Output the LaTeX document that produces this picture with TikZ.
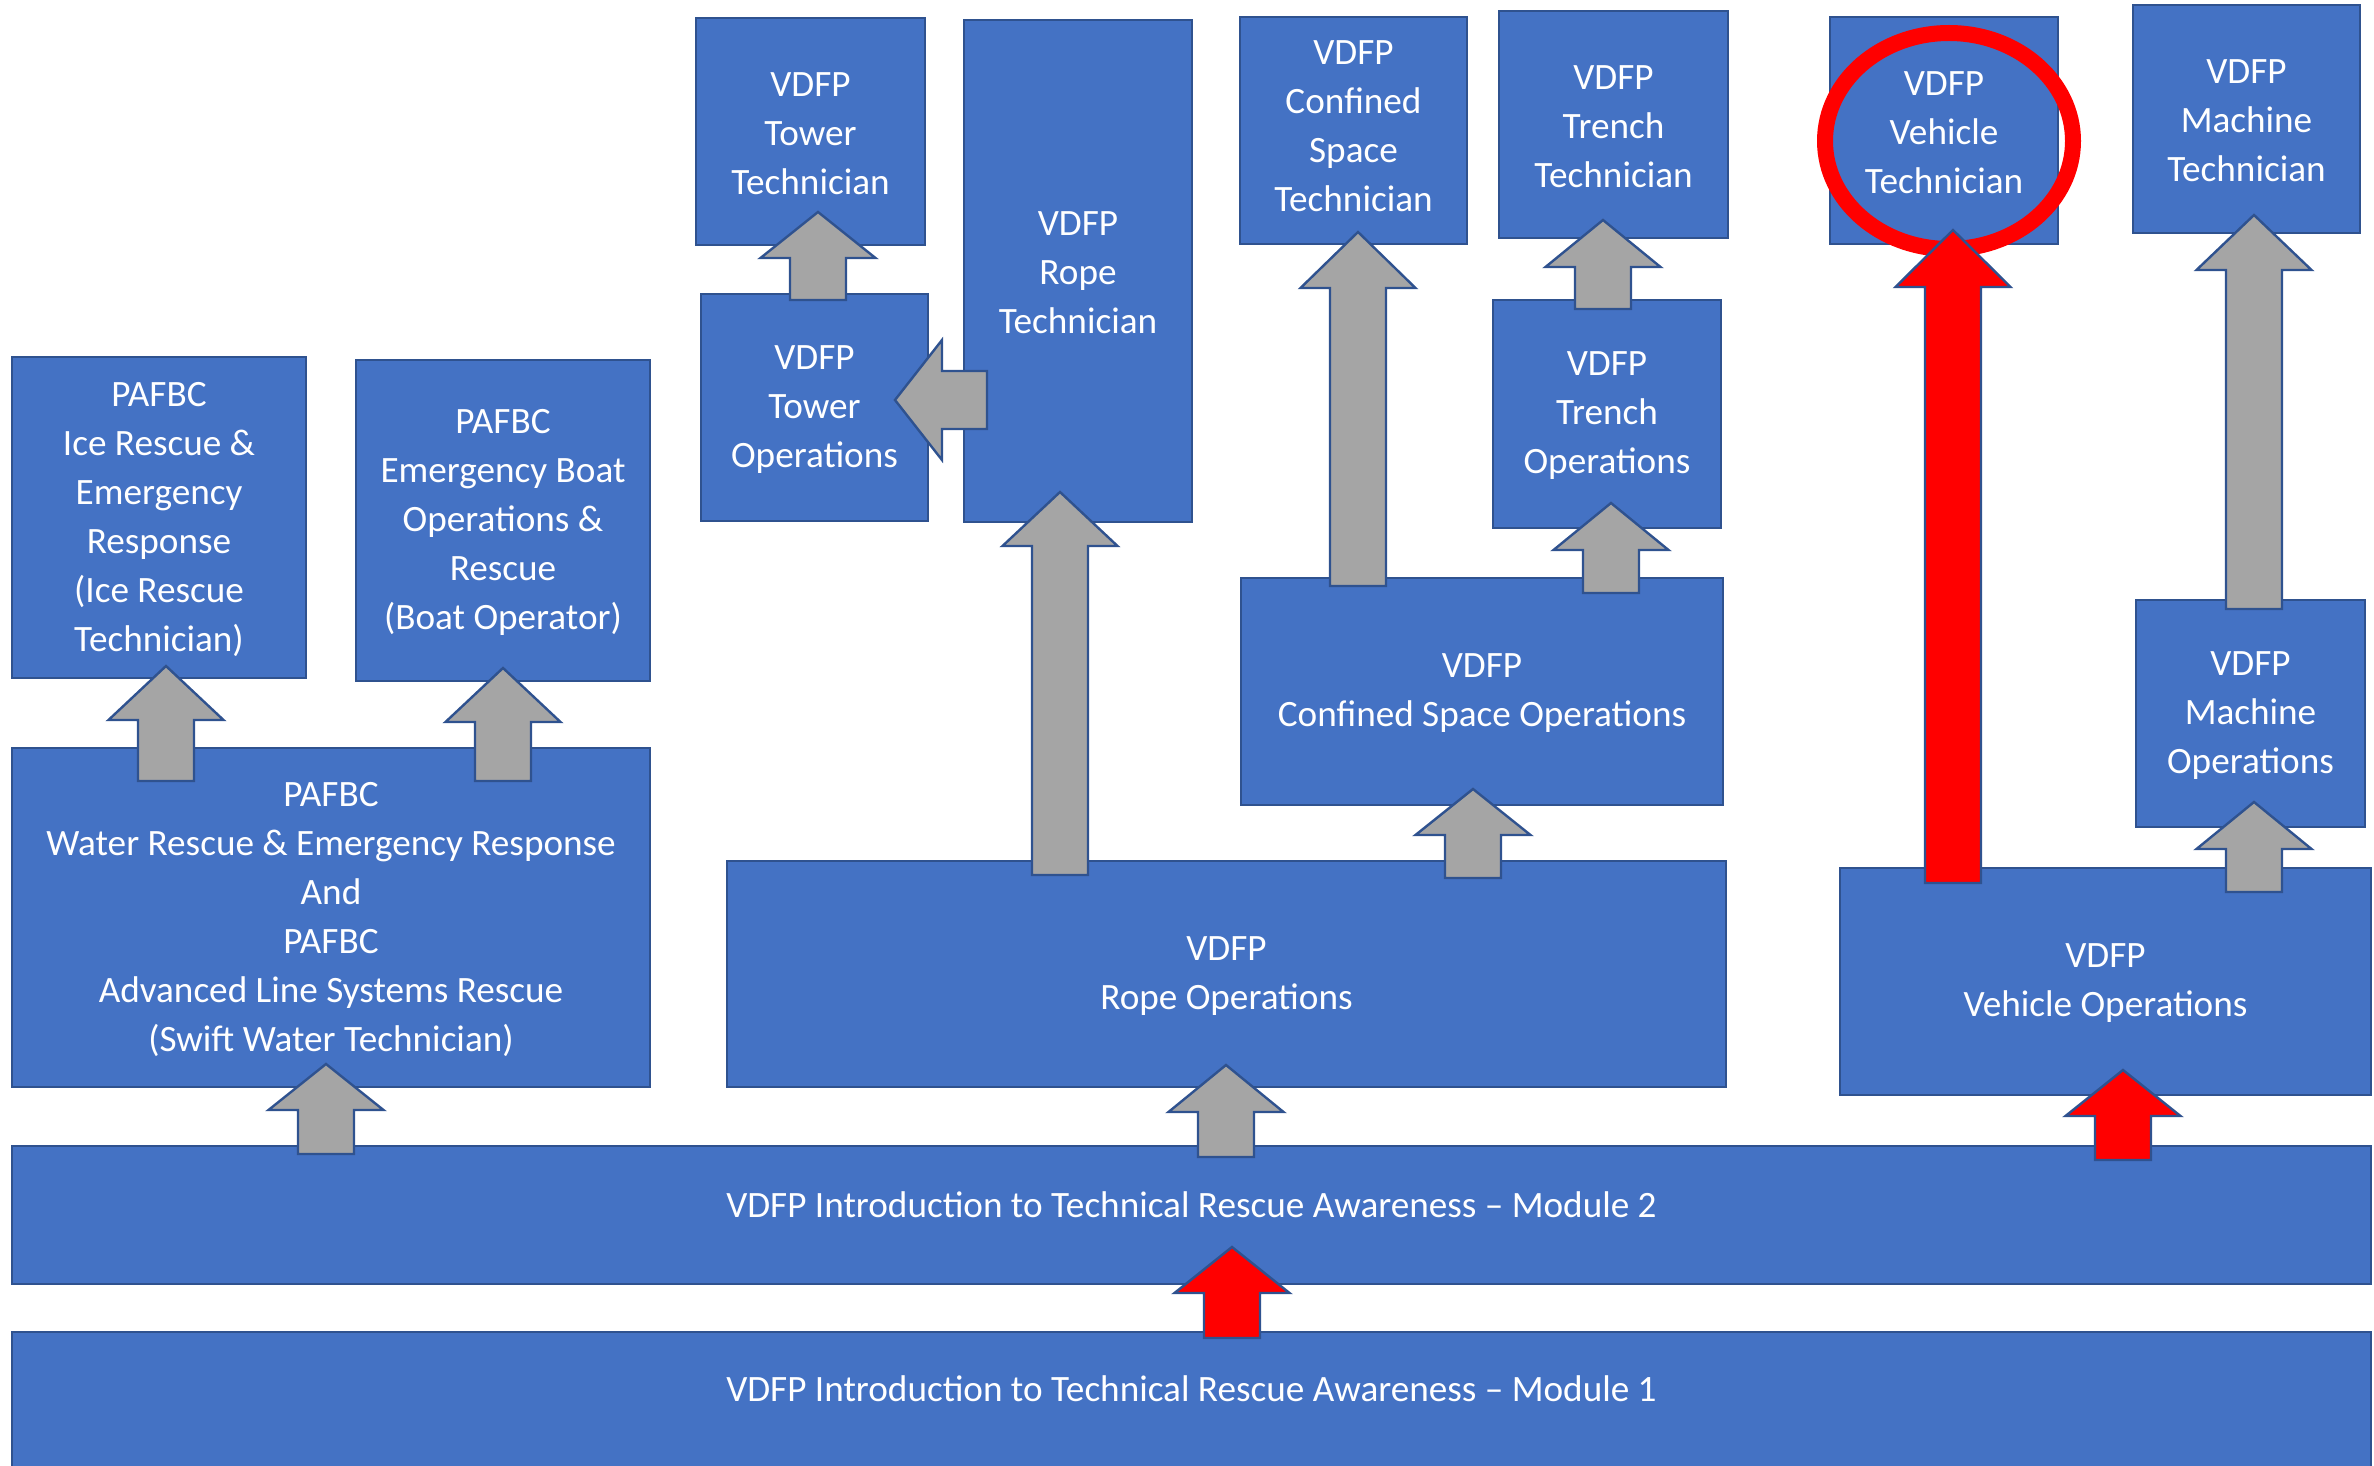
\documentclass[tikz,border=0pt]{standalone}
\usepackage{fontspec}
\setmainfont{Carlito}
\usetikzlibrary{fit}
\definecolor{boxfill}{HTML}{4472C4}
\definecolor{boxline}{HTML}{2F528F}
\definecolor{arrgray}{HTML}{A5A5A5}
\definecolor{arrred}{HTML}{FF0000}
\tikzset{
  box/.style={draw=boxline, fill=boxfill, line width=1.2pt, inner sep=0pt},
  boxtext/.style={text=white, align=center, inner sep=0pt, font=\fontsize{18.6}{24.5}\selectfont},
  blk/.style={draw=boxline, line width=1.2pt, line join=miter},
  ring/.style={draw=arrred, line width=8pt},
}
% x, tip y, tail y, head length, colour
\newcommand\uparrblk[5]{%
  \draw[blk, fill=#5] (#1,#2) -- (#1+57.5,#2+#4) -- (#1+28,#2+#4) -- (#1+28,#3) -- (#1-28,#3) -- (#1-28,#2+#4) -- (#1-57.5,#2+#4) -- cycle;}
% [text shift], name, x1, y1, x2, y2, text
\newcommand\bx[7][-1pt]{\node[box, fit={(#3,#4) (#5,#6)}] (#2) {};
  \node[boxtext, yshift=#1] (#2-t) at (#2.center) {#7};}
\begin{document}
\begin{tikzpicture}[x=0.5pt, y=-0.5pt]
\useasboundingbox (0,0) rectangle (2374,1466);
\clip (0,0) rectangle (2374,1466);
% boxes
\bx{ice}{12}{357}{306}{678}{PAFBC\\Ice Rescue \&\\Emergency\\Response\\(Ice Rescue\\Technician)}
\bx{boat}{356}{360}{650}{681}{PAFBC\\Emergency Boat\\Operations \&\\Rescue\\(Boat Operator)}
\bx{water}{12}{748}{650}{1087}{PAFBC\\Water Rescue \& Emergency Response\\And\\PAFBC\\Advanced Line Systems Rescue\\(Swift Water Technician)}
\bx{towtech}{696}{18}{925}{245}{VDFP\\Tower\\Technician}
\bx{towops}{701}{294}{928}{521}{VDFP\\Tower\\Operations}
\bx{ropetech}{964}{20}{1192}{522}{VDFP\\Rope\\Technician}
\bx[2pt]{conftech}{1240}{17}{1467}{244}{VDFP\\Confined\\Space\\Technician}
\bx{trenchtech}{1499}{11}{1728}{238}{VDFP\\Trench\\Technician}
\bx{trenchops}{1493}{300}{1721}{528}{VDFP\\Trench\\Operations}
\bx{confops}{1241}{578}{1723}{805}{VDFP\\Confined Space Operations}
\bx{vehtech}{1830}{17}{2058}{244}{VDFP\\Vehicle\\Technician}
\bx{machtech}{2133}{5}{2360}{233}{VDFP\\Machine\\Technician}
\bx{machops}{2136}{600}{2365}{827}{VDFP\\Machine\\Operations}
\bx{ropeops}{727}{861}{1726}{1087}{VDFP\\Rope Operations}
\bx{vehops}{1840}{868}{2371}{1095}{VDFP\\Vehicle Operations}
\bx[5.3pt]{modtwo}{12}{1146}{2371}{1284}{VDFP Introduction to Technical Rescue Awareness – Module 2}
\node[box, fit={(12,1332) (2371,1500)}] (modone) {};
\node[boxtext] (modone-t) at (1191.5,1389) {VDFP Introduction to Technical Rescue Awareness – Module 1};
% red ring
\draw[ring] (1949,141) ellipse [x radius=62pt, y radius=54pt];
% block arrows
\uparrblk{166}{666}{781}{54}{arrgray}
\uparrblk{503}{668}{781}{54}{arrgray}
\uparrblk{326}{1064}{1154}{46}{arrgray}
\uparrblk{1226}{1065}{1157}{47}{arrgray}
\uparrblk{1232}{1247}{1338}{46}{arrred}
\uparrblk{2123}{1070}{1160}{46}{arrred}
\uparrblk{1060}{492}{875}{54}{arrgray}
\uparrblk{818}{212}{300}{46}{arrgray}
\uparrblk{1358}{232}{586}{56}{arrgray}
\uparrblk{1611}{503}{593}{47}{arrgray}
\uparrblk{1603}{220}{309}{47}{arrgray}
\uparrblk{1473}{789}{878}{46}{arrgray}
\uparrblk{1953}{230}{883}{57}{arrred}
\uparrblk{2254}{802}{892}{47}{arrgray}
\uparrblk{2254}{215}{609}{55}{arrgray}
% left arrow from rope technician to tower operations
\draw[blk, fill=arrgray] (895,400) -- (942,340) -- (942,371) -- (987,371) -- (987,429) -- (942,429) -- (942,460) -- cycle;
\end{tikzpicture}
\end{document}
